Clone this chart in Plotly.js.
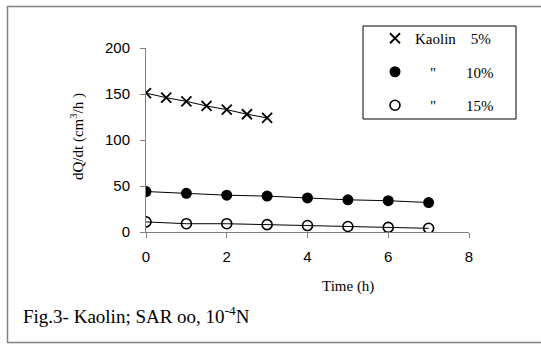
<!DOCTYPE html>
<html>
<head>
<meta charset="utf-8">
<script src="https://cdn.plot.ly/plotly-3.0.1.min.js"></script>
<style>html,body{margin:0;padding:0;background:#fff;}#chart{width:541px;height:345px;}</style>
</head>
<body>
<div id="chart"></div>
<script>
// Data
const time5 = [0, 0.5, 1, 1.5, 2, 2.5, 3];
const rate5 = [151, 146, 142, 137, 133, 128, 124];
const time10 = [0, 1, 2, 3, 4, 5, 6, 7];
const rate10 = [44, 42, 40, 39, 37, 35, 34, 32];
const time15 = [0, 1, 2, 3, 4, 5, 6, 7];
const rate15 = [11, 9, 9, 8, 7, 6, 5, 4];
const NB = n => '\u00a0'.repeat(n);
const seriesNames = ['Kaolin' + NB(4) + '5%', NB(4) + '"' + NB(8) + '10%', NB(4) + '"' + NB(8) + '15%'];
const xTicks = [0, 2, 4, 6, 8];
const yTicks = [0, 50, 100, 150, 200];

const W = 541, H = 345;
const M = {l: 146, r: 72, t: 48, b: 113};
const PW = W - M.l - M.r, PH = H - M.t - M.b;
const px = v => (v - M.l) / PW;
const py = v => (H - M.b - v) / PH;

const serif = 'Liberation Serif';
const sans = 'Liberation Sans';

const series = [
  {x: time5, y: rate5, name: seriesNames[0], g: 'a',
   marker: {symbol: 'x-thin-open', size: 10, color: '#000', line: {color: '#000', width: 1.8}}},
  {x: time10, y: rate10, name: seriesNames[1], g: 'b',
   marker: {symbol: 'circle', size: 11, color: '#000', line: {color: '#000', width: 0}}},
  {x: time15, y: rate15, name: seriesNames[2], g: 'c',
   marker: {symbol: 'circle-open', size: 10, color: '#000', line: {color: '#000', width: 1.6}}}
];
const traces = [];
series.forEach(s => {
  traces.push({x: s.x, y: s.y, mode: 'lines', showlegend: false, legendgroup: s.g, hoverinfo: 'skip',
    line: {color: '#000', width: 1}});
});
series.forEach(s => {
  traces.push({x: s.x, y: s.y, mode: 'markers', name: s.name, legendgroup: s.g, marker: s.marker});
});

const axisCommon = {showgrid: false, zeroline: false, showline: true, linecolor: '#808080', linewidth: 1,
  ticks: 'outside', ticklen: 5, tickcolor: '#808080', tickwidth: 1,
  tickfont: {family: sans, size: 15, color: '#000'}, fixedrange: true};

const layout = {
  width: W, height: H,
  margin: M,
  paper_bgcolor: '#fff', plot_bgcolor: '#fff',
  showlegend: true,
  legend: {x: px(375), y: py(22), xanchor: 'left', yanchor: 'top', bgcolor: 'rgba(0,0,0,0)',
    borderwidth: 0, traceorder: 'grouped', tracegroupgap: 11,
    font: {family: serif, size: 15, color: '#000'}, itemwidth: 30},
  xaxis: Object.assign({}, axisCommon, {range: [0, 8], tickvals: xTicks, ticktext: xTicks.map(String), ticklabelstandoff: 6, anchor: 'y'}),
  yaxis: Object.assign({}, axisCommon, {range: [0, 200], tickvals: yTicks, ticktext: yTicks.map(String), ticklabelstandoff: 7, anchor: 'x'}),
  xaxis2: {overlaying: 'x', anchor: 'y', range: [0, 8], tickvals: xTicks, ticks: 'inside', ticklen: 5, tickcolor: '#808080',
    showticklabels: false, showline: false, showgrid: false, zeroline: false, side: 'bottom', fixedrange: true},
  yaxis2: {overlaying: 'y', anchor: 'x', range: [0, 200], tickvals: yTicks, ticks: 'inside', ticklen: 5, tickcolor: '#808080',
    showticklabels: false, showline: false, showgrid: false, zeroline: false, side: 'left', fixedrange: true},
  shapes: [
    {type: 'rect', xref: 'paper', yref: 'paper', x0: px(7.5), x1: px(560), y0: py(342.5), y1: py(6.5),
     line: {color: '#808080', width: 1.5}, fillcolor: 'rgba(0,0,0,0)', layer: 'below'},
    {type: 'rect', xref: 'paper', yref: 'paper', x0: px(363), x1: px(516), y0: py(119), y1: py(26),
     line: {color: '#000', width: 1}, fillcolor: 'rgba(0,0,0,0)'}
  ],
  annotations: [
    {text: 'dQ/dt (cm<sup>3</sup>/h )', xref: 'paper', yref: 'paper', x: px(77), y: py(137), textangle: -90,
     showarrow: false, xanchor: 'center', yanchor: 'middle', font: {family: serif, size: 15, color: '#000'}},
    {text: 'Time (h)', xref: 'paper', yref: 'paper', x: px(348), y: py(286),
     showarrow: false, xanchor: 'center', yanchor: 'middle', font: {family: serif, size: 15, color: '#000'}},
    {text: 'Fig.3- Kaolin; SAR oo, 10<sup>-4</sup>N', xref: 'paper', yref: 'paper', x: px(21), y: py(315),
     showarrow: false, xanchor: 'left', yanchor: 'middle', font: {family: serif, size: 19, color: '#000'}}
  ]
};

Plotly.newPlot('chart', traces, layout, {displayModeBar: false, staticPlot: true});
</script>
</body>
</html>
